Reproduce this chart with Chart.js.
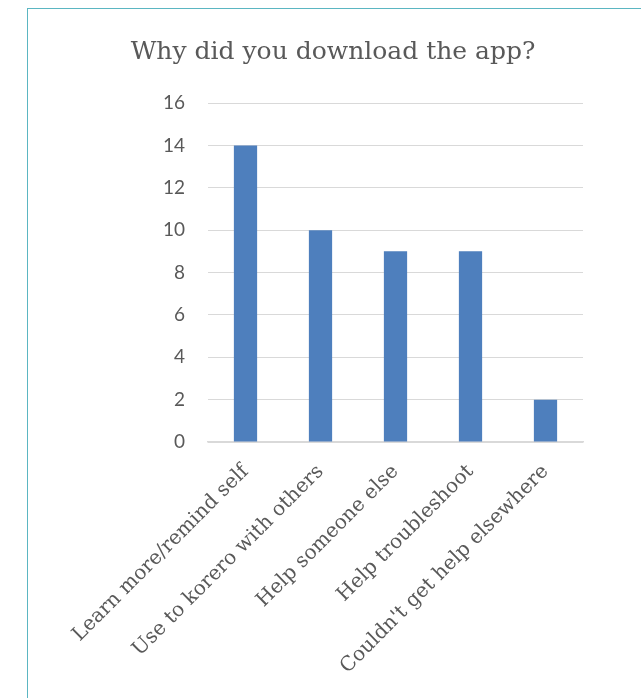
<!DOCTYPE html>
<html>
<head>
<meta charset="utf-8">
<script src="https://cdn.jsdelivr.net/npm/chart.js@4"></script>
<style>
  html, body { margin: 0; padding: 0; background: #fff; }
  body { width: 641px; height: 698px; overflow: hidden; position: relative; }
  .frame {
    position: absolute; left: 27px; top: 8px;
    width: 700px; height: 760px;
    border-left: 1px solid #5bb6c2; border-top: 1px solid #5bb6c2;
  }
  .wrap { position: absolute; left: 28px; top: 9px; width: 610px; height: 689px; }
</style>
</head>
<body>
<div class="frame"></div>
<div class="wrap"><canvas id="chart"></canvas></div>
<script>
const reasons = [
  'Learn more/remind self',
  'Use to korero with others',
  'Help someone else',
  'Help troubleshoot',
  "Couldn't get help elsewhere"
];
const counts = [14, 10, 9, 9, 2];
const yTicks = [0, 2, 4, 6, 8, 10, 12, 14, 16];

const textGrey = '#595959';
const gridGrey = '#d9d9d9';

new Chart(document.getElementById('chart'), {
  type: 'bar',
  data: {
    labels: reasons,
    datasets: [{
      data: counts,
      backgroundColor: '#4e7fbd',
      categoryPercentage: 1,
      barPercentage: 0.31
    }]
  },
  options: {
    responsive: true,
    maintainAspectRatio: false,
    animation: false,
    // equal side padding keeps the title centred over the whole frame
    layout: { padding: { left: 55, right: 55, top: 0, bottom: 0 } },
    plugins: {
      legend: { display: false },
      tooltip: { enabled: false },
      title: {
        display: true,
        text: 'Why did you download the app?',
        color: textGrey,
        font: { family: 'DejaVu Serif', size: 25, weight: 'normal' },
        padding: { top: 28, bottom: 36 }
      }
    },
    scales: {
      x: {
        grid: { display: false },
        border: { display: true, color: gridGrey, width: 1.5 },
        ticks: {
          color: textGrey,
          font: { family: 'DejaVu Serif', size: 20 },
          minRotation: 45,
          maxRotation: 45,
          autoSkip: false,
          padding: 10
        },
        afterFit: s => { s.height = 256; }
      },
      y: {
        min: 0,
        max: yTicks[yTicks.length - 1],
        afterBuildTicks: s => { s.ticks = yTicks.map(v => ({ value: v })); },
        grid: { color: gridGrey, lineWidth: 1, drawTicks: false },
        border: { display: false },
        ticks: {
          color: textGrey,
          font: { family: 'Lato', size: 19 },
          padding: 23
        },
        afterFit: s => { s.width = 125; }
      }
    }
  }
});
</script>
</body>
</html>
